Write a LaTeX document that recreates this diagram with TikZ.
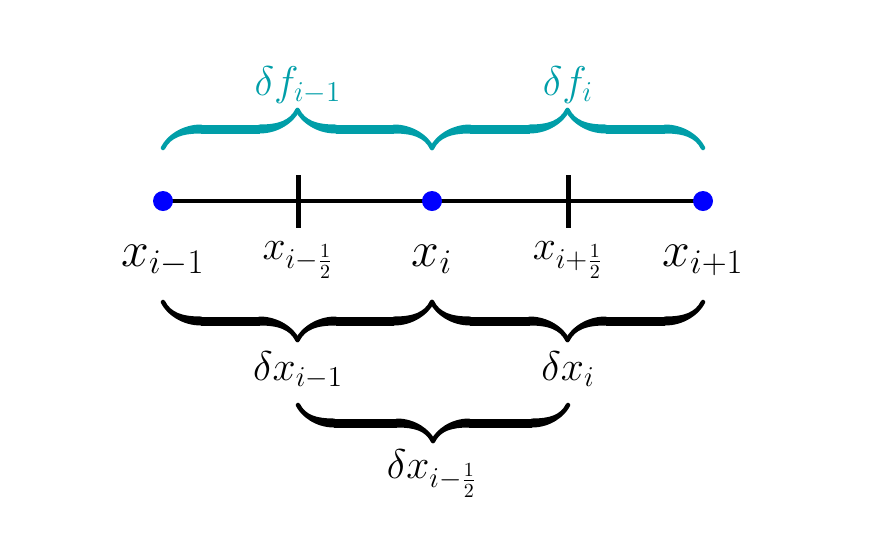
\documentclass[tikz,border=0pt]{standalone}
\usetikzlibrary{decorations.pathreplacing,calligraphy}
\definecolor{tealb}{RGB}{0,158,168}
\definecolor{dotblue}{RGB}{0,0,255}
\begin{document}
\begin{tikzpicture}[x=0.5pt,y=-0.5pt,
  axis/.style={line width=2pt},
  tickmark/.style={line width=2.5pt},
  pt/.style={circle,fill=dotblue,inner sep=0pt,minimum size=10pt},
  bigtxt/.style={font=\fontsize{25}{30}\selectfont,inner sep=0pt,anchor=base},
  midtxt/.style={font=\fontsize{20}{24}\selectfont,inner sep=0pt,anchor=base},
  dtxt/.style={font=\fontsize{19.5}{23}\selectfont,inner sep=0pt,anchor=base},
  cbrace/.style={decorate,decoration={calligraphic brace,amplitude=#1},line width=4.5pt},
]
\useasboundingbox (0,0) rectangle (874,559);
% points
\coordinate (p0) at (163,201);
\coordinate (h0) at (298,201);
\coordinate (p1) at (432,201);
\coordinate (h1) at (568,201);
\coordinate (p2) at (703,201);
\coordinate (h0t) at (298,175);
\coordinate (h0b) at (298,228);
\coordinate (h1t) at (568,175);
\coordinate (h1b) at (568,228);
\draw[axis] (p0) -- (p2);
\draw[tickmark] (h0t) -- (h0b);
\draw[tickmark] (h1t) -- (h1b);
\node[pt] (d0) at (p0) {};
\node[pt] (d1) at (p1) {};
\node[pt] (d2) at (p2) {};
% labels
\node[bigtxt] (l0) at (163,266) {$x_{i-1}$};
\node[midtxt] (lh0) at (298,259) {$x_{i-\frac{1}{2}}$};
\node[bigtxt] (l1) at (432,266) {$x_{i}$};
\node[midtxt] (lh1) at (568,259) {$x_{i+\frac{1}{2}}$};
\node[bigtxt] (l2) at (703,266) {$x_{i+1}$};
% top teal braces
\coordinate (ta) at (163,148);
\coordinate (tb) at (432,148);
\coordinate (tc) at (703,148);
\draw[cbrace=19pt,tealb,pen colour={tealb}] (ta) -- (tb);
\draw[cbrace=19pt,tealb,pen colour={tealb}] (tb) -- (tc);
\node[dtxt,text=tealb] (f0) at (298,95) {$\delta f_{i-1}$};
\node[dtxt,text=tealb] (f1) at (568,95) {$\delta f_{i}$};
% bottom braces
\coordinate (ba) at (163,302);
\coordinate (bb) at (432,302);
\coordinate (bc) at (703,302);
\draw[cbrace=19pt] (bb) -- (ba);
\draw[cbrace=19pt] (bc) -- (bb);
\node[dtxt] (g0) at (298,380) {$\delta x_{i-1}$};
\node[dtxt] (g1) at (568,380) {$\delta x_{i}$};
\coordinate (ca) at (298,405);
\coordinate (cb) at (568,405);
\draw[cbrace=18pt] (cb) -- (ca);
\node[dtxt] (g2) at (432,478) {$\delta x_{i-\frac{1}{2}}$};
\end{tikzpicture}
\end{document}
